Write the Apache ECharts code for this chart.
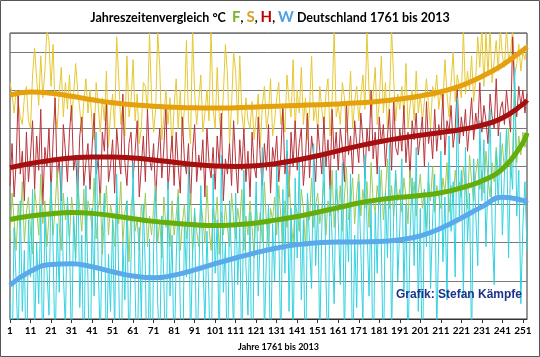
<!DOCTYPE html>
<html>
<head>
<meta charset="utf-8">
<script src="https://cdn.jsdelivr.net/npm/echarts@6/dist/echarts.min.js"></script>
<style>html,body{margin:0;padding:0;background:#fff}#c{width:540px;height:357px}</style>
</head>
<body>
<div id="c"></div>
<script>
// Year index 1..253 (1761..2013); values in chart grid units (no visible y labels)
const firstYear = 1761;
const yearCount = 253;
const tickLabels = ['1','11','21','31','41','51','61','71','81','91','101','111','121','131','141','151','161','171','181','191','201','211','221','231','241','251'];

// Summer (S) yearly values
const summer = [
6.2,5.9,5.4,6.0,5.7,5.3,5.1,5.8,6.1,5.2,
5.0,6.4,7.1,6.3,5.6,6.9,5.8,6.5,7.6,7.3,
6.1,7.2,5.4,5.0,5.9,6.6,5.3,6.2,5.5,6.4,
5.2,5.9,6.7,6.0,5.5,4.9,5.7,6.3,5.4,6.0,
5.1,4.7,6.2,5.6,4.9,5.8,5.2,6.5,4.5,5.4,
5.9,5.0,7.4,6.3,5.1,5.6,4.8,6.9,5.3,5.7,
6.8,5.2,5.9,4.6,5.0,6.2,6.1,5.4,7.5,5.8,
4.9,5.5,7.5,6.6,4.7,5.3,6.0,5.1,5.8,4.4,
5.6,6.3,5.0,6.0,4.8,5.5,7.3,5.2,4.6,7.6,
5.9,5.1,5.7,6.4,4.9,5.4,6.0,5.2,7.6,5.5,
5.0,6.6,5.3,4.8,5.9,7.2,6.4,4.6,5.6,7.0,
6.5,5.1,6.9,5.4,4.9,5.8,5.2,5.0,5.7,4.7,
5.3,5.9,4.5,5.6,6.1,5.0,5.4,6.3,4.8,5.2,
5.8,6.2,5.1,5.5,4.9,6.4,5.7,5.3,6.8,5.0,
6.0,5.4,6.6,5.1,5.8,4.7,5.5,6.9,5.2,5.6,
4.9,6.1,5.5,5.0,5.9,6.3,4.8,5.7,7.6,5.3,
5.6,5.1,6.2,5.8,4.9,5.4,6.5,5.0,5.7,6.1,
5.2,5.8,6.4,5.5,7.5,6.0,5.3,5.9,6.6,5.1,
5.7,6.9,5.4,6.2,5.0,5.8,7.6,6.3,5.2,5.9,
5.5,6.1,5.3,6.7,5.0,5.6,6.0,5.2,6.5,5.4,
5.9,5.2,5.7,6.3,5.6,5.0,6.1,5.8,6.4,5.5,
6.0,5.6,6.8,5.9,5.3,6.2,7.0,5.7,6.4,6.1,
5.8,7.6,5.9,6.5,6.0,6.9,5.7,6.3,7.4,6.6,
7.6,6.1,7.5,6.4,7.6,6.2,6.8,7.3,6.5,7.6,
6.9,6.6,7.6,6.8,7.0,7.6,6.4,6.7,7.2,6.5,
7.0,6.8,7.2];

// Autumn (H) yearly values
const autumn = [
3.5,4.6,3.2,4.1,5.9,3.8,4.4,3.1,4.9,3.6,
4.3,5.2,3.4,4.8,3.9,5.5,3.0,4.5,4.0,5.0,
3.3,4.7,5.8,3.7,4.2,3.1,5.1,4.4,3.6,4.9,
5.6,3.9,4.3,3.2,4.8,5.3,3.5,4.1,4.6,3.4,
4.5,5.4,3.8,4.2,3.0,4.9,4.4,5.7,3.6,4.0,
4.7,3.3,5.0,4.3,3.8,5.9,4.1,3.5,4.6,4.9,
3.7,4.4,5.2,3.2,4.0,4.8,3.6,5.5,4.2,3.9,
4.6,3.1,4.3,5.0,3.7,4.5,5.6,3.4,4.1,4.8,
3.5,4.9,4.0,3.3,5.3,4.2,3.8,4.6,3.0,4.4,
5.1,3.6,4.3,3.9,4.7,3.2,5.0,4.1,3.7,4.5,
3.4,4.8,4.0,5.4,3.1,4.2,3.8,4.6,3.5,5.2,
4.1,3.3,4.7,3.9,5.0,3.6,4.4,3.2,4.9,4.0,
3.7,5.3,4.2,3.5,4.6,3.9,5.1,3.3,4.5,4.1,
4.8,3.6,4.3,5.6,3.8,4.4,3.2,4.9,4.0,5.2,
3.9,4.6,5.0,3.5,4.2,5.4,3.7,4.8,4.3,3.6,
5.1,4.4,3.8,5.3,4.0,4.7,3.4,5.5,4.2,4.9,
3.9,5.0,4.5,3.6,5.7,4.3,4.8,3.8,5.2,4.6,
4.1,5.4,4.7,3.7,5.0,4.4,6.0,4.2,4.9,3.8,
5.3,4.6,5.1,4.0,4.8,5.5,3.9,5.8,4.5,4.3,
5.0,4.4,5.6,4.1,4.9,3.7,5.2,4.7,5.4,4.3,
4.8,5.3,4.0,5.7,4.6,5.0,4.2,5.5,4.4,5.1,
4.7,5.9,4.3,5.2,4.9,5.6,4.5,5.0,6.1,4.6,
5.3,4.8,5.5,4.4,5.1,5.8,4.7,5.4,5.0,6.2,
4.9,5.6,5.2,4.6,5.9,5.3,5.0,6.3,4.8,5.5,
5.7,5.1,6.0,5.4,4.9,7.4,5.8,5.3,6.1,5.6,
6.0,5.4,5.9];

// Spring (F) yearly values
const spring = [
2.1,3.3,2.6,1.8,3.0,2.4,3.6,2.0,2.8,3.2,
2.3,1.7,3.4,2.9,2.2,3.8,2.5,3.1,1.9,2.7,
3.5,2.2,2.9,3.9,2.4,1.8,3.3,2.6,3.0,2.1,
3.2,2.7,1.6,3.6,2.9,2.3,3.4,2.0,3.1,2.8,
2.4,3.7,2.1,2.9,3.3,1.7,2.6,3.5,2.2,3.0,
2.7,1.9,3.2,2.5,3.6,2.0,2.8,3.1,1.5,2.9,
3.4,2.3,2.6,1.8,3.0,2.5,3.3,1.9,2.7,2.2,
2.9,3.5,2.0,2.6,1.6,3.2,2.4,2.8,1.9,3.1,
2.2,2.7,3.4,1.8,2.5,3.0,2.1,2.6,3.3,1.7,
2.8,2.3,1.9,3.1,2.6,2.0,3.5,2.4,1.8,2.9,
2.5,3.2,1.7,2.8,2.2,3.0,2.4,1.9,3.3,2.6,
2.1,2.9,2.5,3.4,1.8,2.7,2.2,3.1,2.4,1.6,
3.0,2.3,2.8,2.0,3.6,2.5,1.9,2.9,2.6,3.2,
2.2,3.5,2.7,1.8,3.1,2.4,3.8,2.6,2.0,3.0,
2.8,2.3,3.4,2.9,1.9,3.2,2.6,3.7,2.4,3.0,
3.3,2.5,2.9,3.6,2.2,3.1,2.7,3.9,2.4,3.4,
2.8,3.5,2.3,3.2,4.0,2.6,3.0,3.7,2.5,3.3,
3.8,2.7,3.4,2.9,3.6,2.4,4.1,3.1,2.8,3.5,
3.0,3.9,2.6,3.3,4.2,2.9,3.5,2.7,3.8,3.1,
3.4,2.8,3.7,3.2,2.5,3.9,3.0,3.6,2.7,3.3,
3.8,2.9,3.4,2.4,3.6,3.1,4.0,2.8,3.5,3.2,
2.9,3.7,3.3,4.1,2.8,3.5,3.0,3.9,3.4,3.6,
3.2,4.0,3.5,2.9,4.3,3.6,3.1,3.8,4.2,3.4,
3.9,3.3,4.4,3.7,3.2,4.1,3.6,4.5,3.8,4.0,
4.6,3.9,4.2,5.0,3.7,4.4,6.2,4.1,4.8,4.3,
4.9,4.5,4.7];

// Winter (W) yearly values
const winter = [
0.5,-1.2,2.4,1.0,-0.8,3.1,0.2,1.8,-2.0,2.6,
1.1,3.4,-0.5,2.0,0.4,3.0,-1.5,2.8,1.3,0.1,
3.6,1.9,-1.0,2.5,0.7,4.0,1.2,-0.3,3.2,2.0,
-0.9,2.7,1.5,4.2,0.3,2.2,-1.8,3.5,1.0,-2.4,
2.9,0.6,4.9,1.4,-0.6,2.3,3.3,-1.3,1.7,0.2,
2.6,-0.4,3.8,1.1,-2.2,2.0,0.5,3.1,-1.1,1.6,
4.1,0.8,-1.6,2.4,0.0,3.0,1.3,-2.5,2.1,-3.0,
1.9,3.4,0.4,-0.8,2.7,1.0,-1.9,3.6,0.6,2.2,
-1.2,1.5,3.2,0.3,-2.6,2.5,1.1,4.0,-0.7,1.8,
2.9,-1.4,0.9,3.5,1.6,-0.2,2.3,0.5,-2.1,3.8,
1.2,2.6,-0.9,4.3,0.7,2.0,-1.7,3.1,1.5,-0.4,
3.3,0.9,2.4,-1.1,3.9,1.4,0.1,2.8,-2.3,1.9,
3.6,0.6,2.2,4.5,-0.5,1.7,3.0,-1.5,2.5,1.0,
4.0,2.3,-0.8,3.4,1.2,4.7,0.2,2.9,-1.0,3.7,
1.6,4.2,0.5,2.6,-1.9,3.3,2.0,0.8,4.6,1.4,
3.0,-0.6,2.4,4.4,1.1,-1.3,3.5,2.1,0.4,3.9,
2.6,0.9,4.1,-0.7,2.9,1.5,3.8,-1.6,2.2,0.3,
3.6,1.8,-0.2,4.3,2.5,0.6,3.1,-2.0,2.8,1.2,
4.0,2.0,-1.4,3.3,1.6,4.6,-0.5,2.7,3.9,1.0,
2.4,4.2,0.7,3.0,-0.9,2.2,3.7,1.4,4.5,0.2,
2.9,-1.8,3.4,1.9,4.1,0.8,2.6,3.8,-0.3,2.1,
4.4,1.5,3.2,0.5,4.8,2.3,3.6,1.1,5.8,2.7,
3.9,0.6,4.5,2.0,3.3,-0.8,4.2,2.8,1.4,5.2,
3.1,4.7,1.9,3.6,5.5,2.4,0.9,4.4,3.0,4.9,
2.2,3.8,5.0,1.6,4.1,3.4,6.6,2.7,3.9,0.4,
2.5,3.6,1.8];

// Polynomial trend curves, read at these year indices
const trendIdx = [1,11,21,31,41,51,61,71,81,91,101,111,121,131,141,151,161,171,181,191,201,211,221,231,241,251,253];
const summerTrend = [5.87,5.95,5.92,5.84,5.75,5.67,5.62,5.58,5.55,5.54,5.53,5.54,5.56,5.58,5.60,5.62,5.64,5.67,5.71,5.77,5.85,5.96,6.12,6.36,6.66,7.05,7.14];
const autumnTrend = [3.97,4.08,4.16,4.22,4.25,4.25,4.22,4.17,4.11,4.05,4.01,4.00,4.02,4.08,4.17,4.28,4.41,4.54,4.65,4.74,4.82,4.89,4.97,5.08,5.27,5.63,5.74];
const springTrend = [2.61,2.70,2.76,2.79,2.77,2.71,2.63,2.56,2.51,2.47,2.45,2.47,2.52,2.60,2.69,2.80,2.92,3.04,3.13,3.19,3.24,3.31,3.44,3.62,3.93,4.62,4.88];
const winterTrend = [0.89,1.25,1.43,1.45,1.37,1.24,1.13,1.08,1.15,1.29,1.45,1.60,1.74,1.86,1.95,2.00,2.02,2.02,2.03,2.08,2.18,2.38,2.65,2.94,3.19,3.11,3.04];

const categories = [];
for (let i = 1; i <= yearCount; i++) categories.push(String(i));
const pairs = (vals) => trendIdx.map((x, i) => [x, vals[i]]);

const chart = echarts.init(document.getElementById('c'), null, {renderer: 'canvas'});
const thin = (name, data, color) => ({
  name, type: 'line', data, xAxisIndex: 0, symbol: 'none',
  lineStyle: {color, width: 1}, z: 2, silent: true
});
const trend = (name, data, color) => ({
  name, type: 'line', data: pairs(data), xAxisIndex: 1, symbol: 'none', smooth: 0.5,
  lineStyle: {color, width: 5}, z: 3, silent: true
});

chart.setOption({
  animation: false,
  backgroundColor: '#fff',
  title: {
    text: '{a|Jahreszeitenvergleich °C  }{f|F}{a|, }{s|S}{a|, }{h|H}{a|, }{w|W}{a| Deutschland 1761 bis 2013}',
    left: 'center', top: 5,
    textStyle: {
      rich: {
        a: {fontFamily: 'Lato', fontWeight: 'bold', fontSize: 12.5, color: '#000'},
        f: {fontFamily: 'Lato', fontWeight: 'bold', fontSize: 15, color: '#76B82A'},
        s: {fontFamily: 'Lato', fontWeight: 'bold', fontSize: 15, color: '#D9A022'},
        h: {fontFamily: 'Lato', fontWeight: 'bold', fontSize: 15, color: '#C00000'},
        w: {fontFamily: 'Lato', fontWeight: 'bold', fontSize: 15, color: '#4F9FE0'}
      }
    }
  },
  grid: {left: 10, right: 13, top: 33, bottom: 37, show: true, borderColor: '#333', borderWidth: 1, containLabel: false},
  xAxis: [{
    type: 'category', data: categories, boundaryGap: false,
    axisLine: {show: true, lineStyle: {color: '#333'}},
    axisTick: {show: true, interval: 9, length: 4, lineStyle: {color: '#333'}},
    axisLabel: {interval: 9, fontFamily: 'Lato', fontWeight: 'bold', fontSize: 10, color: '#000', margin: 7,
      formatter: (v) => tickLabels.includes(v) ? v : ''},
    splitLine: {show: false},
    name: 'Jahre 1761 bis 2013', nameLocation: 'middle', nameGap: 24,
    nameTextStyle: {fontFamily: 'Lato', fontWeight: 'bold', fontSize: 9, color: '#000', padding: [0, 0, 0, 20]}
  }, {
    type: 'value', min: 1, max: yearCount, show: false
  }],
  yAxis: {
    type: 'value', min: 0, max: 7.5, interval: 1,
    axisLine: {show: false}, axisTick: {show: false}, axisLabel: {show: false},
    splitLine: {show: true, lineStyle: {color: '#7a7a7a', width: 1}}
  },
  series: [
    thin('Sommer', summer, '#E6C832'),
    thin('Herbst', autumn, '#B8343C'),
    thin('Frühling', spring, '#9CCB5A'),
    thin('Winter', winter, '#33D2E0'),
    trend('Sommer Trend', summerTrend, '#E5A00D'),
    trend('Herbst Trend', autumnTrend, '#A50F0F'),
    trend('Frühling Trend', springTrend, '#64AD0A'),
    trend('Winter Trend', winterTrend, '#5AAAEB')
  ],
  graphic: [
    {type: 'rect', shape: {x: 0.5, y: 0.5, width: 539, height: 356}, style: {fill: 'none', stroke: '#555', lineWidth: 1}, z: 100},
    {type: 'text', right: 18, top: 289, style: {text: 'Grafik: Stefan Kämpfe', fontFamily: 'Liberation Sans', fontWeight: 'bold', fontSize: 12, fill: '#1B338A'}, z: 100}
  ]
});
</script>
</body>
</html>
